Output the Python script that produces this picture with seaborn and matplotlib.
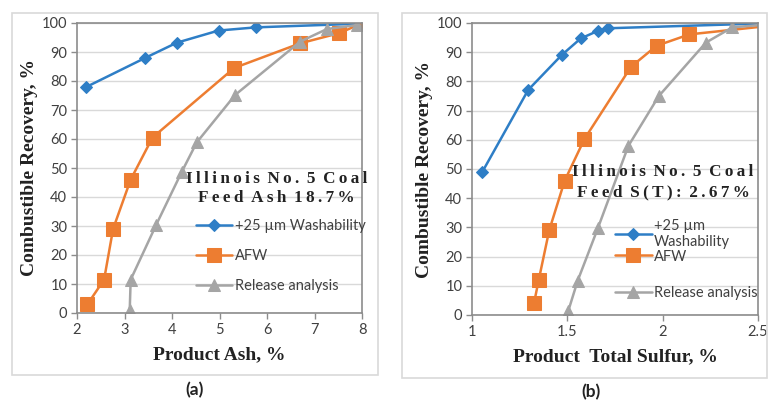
import numpy as np
import pandas as pd
import matplotlib
matplotlib.use("Agg")
import matplotlib.pyplot as plt
import seaborn as sns
from matplotlib.patches import Rectangle

# ── data ─────────────────────────────────────────────────────────────────────
# panel (a): product ash
ash_wash_x = [2.19, 3.44, 4.10, 4.98, 5.77, 8.00]
ash_wash_y = [77.9, 88.0, 93.2, 97.4, 98.5, 99.8]
ash_afw_x = [2.22, 2.57, 2.76, 3.13, 3.59, 5.31, 6.70, 7.52, 8.00]
ash_afw_y = [3.0, 11.5, 29.0, 46.0, 60.5, 84.5, 93.0, 96.5, 99.9]
ash_rel_x = [3.11, 3.13, 3.67, 4.20, 4.52, 5.33, 6.70, 7.26, 7.89]
ash_rel_y = [1.0, 11.5, 30.5, 48.5, 58.8, 75.2, 93.6, 97.9, 99.3]

# panel (b): product total sulfur
sul_wash_x = [1.054, 1.295, 1.47, 1.57, 1.66, 1.715, 2.60]
sul_wash_y = [49.0, 77.1, 89.0, 94.7, 97.3, 98.2, 100.0]
sul_afw_x = [1.325, 1.35, 1.405, 1.486, 1.59, 1.834, 1.968, 2.14, 2.60]
sul_afw_y = [4.0, 12.0, 29.0, 46.0, 60.3, 85.0, 92.2, 96.1, 99.3]
sul_rel_x = [1.505, 1.554, 1.66, 1.82, 1.98, 2.227, 2.365, 2.60]
sul_rel_y = [1.4, 11.7, 29.7, 57.9, 75.0, 93.3, 98.5, 99.8]

series_names = ["+25 \u00b5m Washability", "AFW", "Release analysis"]
colors = ["#2E7EC6", "#ED7D31", "#A5A5A5"]
markers = ["D", "s", "^"]
marker_sizes = [6, 9.5, 8]

sns.set_theme(style="white")
plt.rcParams["font.family"] = ["Lato", "DejaVu Sans"]

fig = plt.figure(figsize=(7.70, 4.01), dpi=100)
W, H = 770, 401
SERIF = ["Liberation Serif", "DejaVu Serif"]
LEG_KW = dict(loc="upper left", frameon=False, fontsize=10.5, handlelength=2.5,
              handletextpad=0.15, borderaxespad=0, labelcolor="#404040")

# light panel frames
for (x0, y0, x1, y1) in [(12, 13, 378, 375), (402, 13, 767, 378)]:
    fig.patches.append(Rectangle((x0 / W, 1 - y1 / H), (x1 - x0) / W, (y1 - y0) / H,
                                 transform=fig.transFigure, fill=False,
                                 edgecolor="#D9D9D9", lw=1.2))


def spaced(s):
    # wide letter spacing like the reference's text box
    return " \u2009".join("\u2009".join(w) for w in s.split(" "))


def panel(rect, xs, ys, labels, xlim, xticks, xlabel, note):
    ax = fig.add_axes([rect[0] / W, 1 - rect[3] / H, (rect[2] - rect[0]) / W,
                       (rect[3] - rect[1]) / H])
    for x, y, lab, c, m, ms in zip(xs, ys, labels, colors, markers, marker_sizes):
        df = pd.DataFrame({"x": x, "y": y})
        sns.lineplot(data=df, x="x", y="y", sort=False, ax=ax, color=c, lw=1.8,
                     marker=m, markersize=ms, markeredgecolor=c, label=lab)
    ax.set_xlim(*xlim)
    ax.set_ylim(0, 100)
    ax.set_xticks(xticks)
    ax.set_xticklabels([f"{t:g}" for t in xticks])
    ax.set_yticks(range(0, 101, 10))
    ax.grid(axis="y", color="#D9D9D9", lw=1)
    ax.set_axisbelow(True)
    for s in ax.spines.values():
        s.set_color("#8C8C8C")
        s.set_linewidth(1.2)
    ax.tick_params(axis="both", labelsize=10.5, length=4, width=1,
                   direction="out", bottom=True, left=True, pad=3,
                   colors="#8C8C8C", labelcolor="#404040")
    ax.set_xlabel(xlabel, family=SERIF, fontweight="bold", fontsize=14,
                  color="#222222", labelpad=7)
    ax.set_ylabel("Combustible Recovery, %", family=SERIF, fontweight="bold",
                  fontsize=14, color="#222222", labelpad=3)
    ax.text(note[0], note[1], note[2], transform=ax.transAxes, ha="center",
            va="center", family=SERIF, fontweight="bold", fontsize=12.3,
            color="#222222", linespacing=1.3)
    return ax


ax_a = panel((77, 23, 362, 313),
             [ash_wash_x, ash_afw_x, ash_rel_x], [ash_wash_y, ash_afw_y, ash_rel_y],
             series_names, (2, 8), list(range(2, 9)), "Product Ash, %",
             (0.70, 0.429, spaced("Illinois No. 5 Coal") + "\n" + spaced("Feed Ash 18.7%")))
ax_a.legend(bbox_to_anchor=(0.397, 0.345), labelspacing=1.1, **LEG_KW)

ax_b = panel((472, 23, 758, 315),
             [sul_wash_x, sul_afw_x, sul_rel_x], [sul_wash_y, sul_afw_y, sul_rel_y],
             ["+25 \u00b5m\nWashability", "AFW", "Release analysis"], (1, 2.5),
             [1, 1.5, 2, 2.5], "Product  Total Sulfur, %",
             (0.668, 0.455, spaced("Illinois No. 5 Coal") + "\n" + spaced("Feed S(T): 2.67%")))
handles, labels = ax_b.get_legend_handles_labels()
leg_top = ax_b.legend(handles[:2], labels[:2], bbox_to_anchor=(0.48, 0.35),
                      labelspacing=0.05, **LEG_KW)
ax_b.add_artist(leg_top)
ax_b.legend(handles[2:], labels[2:], bbox_to_anchor=(0.48, 0.118), **LEG_KW)

fig.text(195 / W, 1 - 390 / H, "(a)", ha="center", va="center", fontsize=12.5,
         fontweight="bold", color="#222222")
fig.text(591 / W, 1 - 392 / H, "(b)", ha="center", va="center", fontsize=12.5,
         fontweight="bold", color="#222222")

fig.savefig("out.png", dpi=100)
